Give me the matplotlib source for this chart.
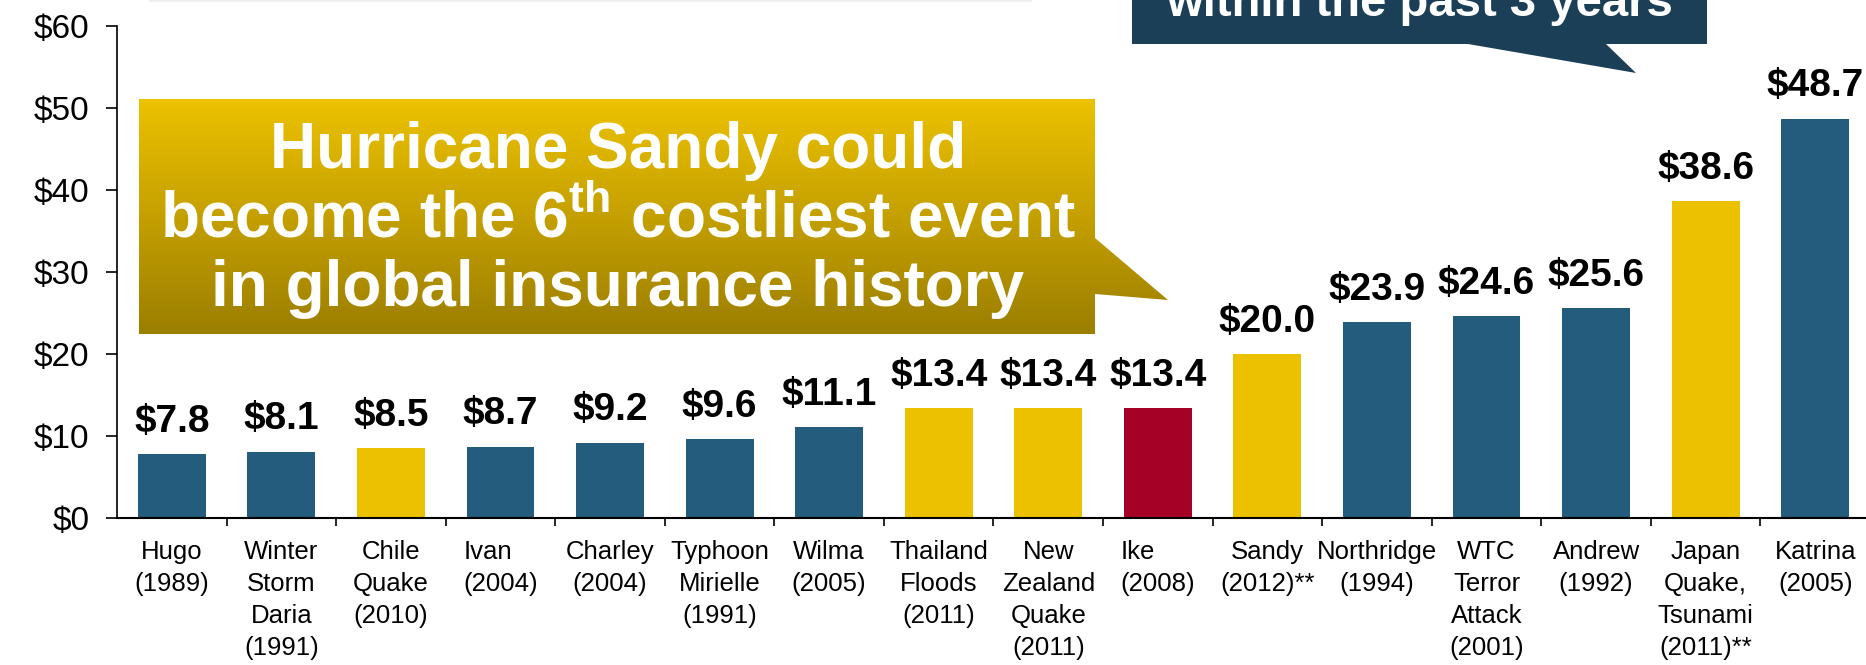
import numpy as np
import matplotlib
matplotlib.use('Agg')
import matplotlib.pyplot as plt
from matplotlib.patches import Polygon
from matplotlib.colors import LinearSegmentedColormap

plt.rcParams['font.family'] = ['Liberation Sans', 'DejaVu Sans']
plt.rcParams['mathtext.fontset'] = 'custom'
plt.rcParams['mathtext.rm'] = 'Liberation Sans:bold'
plt.rcParams['mathtext.bf'] = 'Liberation Sans:bold'

# data ($ billions, insured losses)
events = ['Hugo\n(1989)', 'Winter\nStorm\nDaria\n(1991)', 'Chile\nQuake\n(2010)', 'Ivan\n(2004)',
          'Charley\n(2004)', 'Typhoon\nMirielle\n(1991)', 'Wilma\n(2005)', 'Thailand\nFloods\n(2011)',
          'New\nZealand\nQuake\n(2011)', 'Ike\n(2008)', 'Sandy\n(2012)**', 'Northridge\n(1994)',
          'WTC\nTerror\nAttack\n(2001)', 'Andrew\n(1992)', 'Japan\nQuake,\nTsunami\n(2011)**', 'Katrina\n(2005)']
losses = [7.8, 8.1, 8.5, 8.7, 9.2, 9.6, 11.1, 13.4, 13.4, 13.4, 20.0, 23.9, 24.6, 25.6, 38.6, 48.7]
kinds = ['b', 'b', 'y', 'b', 'b', 'b', 'b', 'y', 'y', 'r', 'y', 'b', 'b', 'b', 'y', 'b']
yticks = [0, 10, 20, 30, 40, 50, 60]

palette = {'b': '#235C7C', 'y': '#ECC100', 'r': '#A50026'}

W, H = 1866, 665
fig = plt.figure(figsize=(W / 100, H / 100), dpi=100)
ax = fig.add_axes([117 / W, (H - 518) / H, (1870 - 117) / W, (518 - 26) / H])

x = np.arange(len(losses))
ax.bar(x, losses, width=0.62, color=[palette[k] for k in kinds], zorder=2)

for xi, v in zip(x, losses):
    ax.annotate(f'${v:.1f}', (xi, v), xytext=(0, 16), textcoords='offset points',
                ha='center', va='baseline', fontsize=28, fontweight='bold', color='black')

ax.set_xlim(-0.5, len(losses) - 0.5)
ax.set_ylim(0, 60)
ax.set_yticks(yticks)
ax.set_yticklabels([f'${t}' for t in yticks], fontsize=24)
ax.tick_params(axis='y', length=8, width=1.2, pad=12, direction='out')

ax.set_xticks(x)
ax.set_xticklabels(events, fontsize=18.5, linespacing=1.42)
ax.tick_params(axis='x', which='major', length=0, pad=16)
ax.set_xticks(np.arange(0.5, len(losses) - 0.5, 1), minor=True)
ax.tick_params(axis='x', which='minor', length=6, width=1.2, direction='out')
for lbl, txt in zip(ax.get_xticklabels(), events):
    if txt.startswith('Ivan') or txt.startswith('Ike'):
        lbl.set_multialignment('left')

for s in ['top', 'right']:
    ax.spines[s].set_visible(False)
ax.spines['left'].set_linewidth(1.2)
ax.spines['bottom'].set_linewidth(1.5)

# overlay for callouts (pixel coordinates)
ov = fig.add_axes([0, 0, 1, 1], zorder=5)
ov.set_xlim(0, W)
ov.set_ylim(H, 0)
ov.axis('off')

ov.plot([150, 1031], [1, 1], color='#EEEEEE', lw=1.5)

# yellow callout
ypoly = [(139, 99), (1095, 99), (1095, 238), (1168, 300), (1095, 294), (1095, 334), (139, 334)]
patch = Polygon(ypoly, closed=True, facecolor='none', edgecolor='none')
ov.add_patch(patch)
cmap = LinearSegmentedColormap.from_list('gold', ['#EDC200', '#9C7E00'])
grad = np.linspace(0, 1, 256).reshape(-1, 1)
im = ov.imshow(grad, extent=[139, 1168, 334, 99], origin='upper', cmap=cmap, aspect='auto')
im.set_clip_path(patch)

ov.text(618, 168, 'Hurricane Sandy could', ha='center', va='baseline',
        fontsize=46, fontweight='bold', color='white')
ov.text(618, 237, r'become the 6$^{\mathrm{th}}$ costliest event', ha='center', va='baseline',
        fontsize=46, fontweight='bold', color='white')
ov.text(618, 306, 'in global insurance history', ha='center', va='baseline',
        fontsize=46, fontweight='bold', color='white')

# dark blue callout
bpoly = [(1132, -10), (1707, -10), (1707, 44), (1606, 44), (1636, 73), (1468, 44), (1132, 44)]
ov.add_patch(Polygon(bpoly, closed=True, facecolor='#1C3F58', edgecolor='none'))
ov.text(1420, 16, 'within the past 3 years', ha='center', va='baseline',
        fontsize=34, fontweight='bold', color='white')

fig.savefig('out.png', dpi=100)
